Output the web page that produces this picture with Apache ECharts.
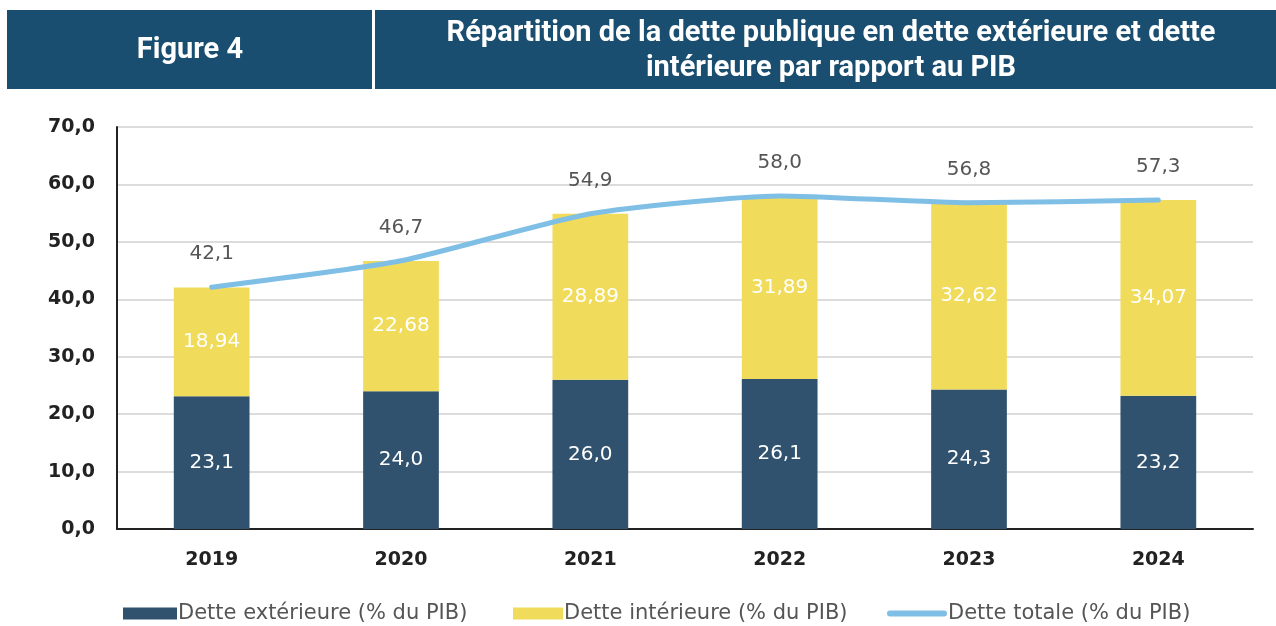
<!DOCTYPE html>
<html>
<head>
<meta charset="utf-8">
<style>
  html, body { margin: 0; padding: 0; background: #fff; }
  #chart { width: 1276px; height: 626px; }
</style>
<script src="https://cdn.jsdelivr.net/npm/echarts@6/dist/echarts.min.js"></script>
</head>
<body>
<div id="chart"></div>
<script>
// données (% du PIB)
var years = ['2019', '2020', '2021', '2022', '2023', '2024'];
var detteExterieure = [23.1, 24.0, 26.0, 26.1, 24.3, 23.2];
var detteInterieure = [18.94, 22.68, 28.89, 31.89, 32.62, 34.07];
var detteTotale = [42.1, 46.7, 54.9, 58.0, 56.8, 57.3];

var nomExt = 'Dette extérieure (% du PIB)';
var nomInt = 'Dette intérieure (% du PIB)';
var nomTot = 'Dette totale (% du PIB)';

function virgule(v, d) {
    return v.toFixed(d).replace('.', ',');
}

var chart = echarts.init(document.getElementById('chart'));
var fontTitre = 'Roboto, "Liberation Sans", sans-serif';
var font = '"DejaVu Sans", sans-serif';

// une légende par élément (écarts irréguliers dans l'original)
function legende(nom, left, largeur, hauteur, icon) {
    return {
        left: left,
        top: 603,
        itemWidth: largeur,
        itemHeight: hauteur,
        itemGap: 0,
        padding: 0,
        textStyle: { fontSize: 21, color: '#555', fontFamily: font, padding: [0, 0, 0, -4] },
        data: [{ name: nom, icon: icon }]
    };
}

var option = {
    animation: false,
    textStyle: { fontFamily: font },
    graphic: [
        { type: 'rect', shape: { x: 7, y: 10, width: 365, height: 79 }, style: { fill: '#1a4e70' } },
        { type: 'rect', shape: { x: 375, y: 10, width: 901, height: 79 }, style: { fill: '#1a4e70' } },
        { type: 'text', x: 190, y: 51, style: { text: 'Figure 4', fill: '#fff', font: 'bold 29px ' + fontTitre, align: 'center', verticalAlign: 'middle' } },
        { type: 'text', x: 831, y: 51, style: { text: 'Répartition de la dette publique en dette extérieure et dette\nintérieure par rapport au PIB', fill: '#fff', font: 'bold 29px ' + fontTitre, align: 'center', verticalAlign: 'middle', lineHeight: 35 } }
    ],
    grid: { left: 117, right: 23, top: 127, bottom: 97 },
    legend: [
        legende(nomExt, 123, 54, 12, 'rect'),
        legende(nomInt, 513, 50, 12, 'rect'),
        legende(nomTot, 887, 60, 12, 'path://M3,0 L57,0 A3,3 0 0 1 57,6 L3,6 A3,3 0 0 1 3,0 Z')
    ],
    xAxis: {
        type: 'category',
        data: years,
        axisLine: { lineStyle: { color: '#222', width: 2 } },
        axisTick: { show: false },
        axisLabel: { fontSize: 19, fontWeight: 'bold', color: '#222', margin: 22 }
    },
    yAxis: {
        type: 'value',
        min: 0,
        max: 70,
        interval: 10,
        axisLine: { show: true, lineStyle: { color: '#222', width: 2 } },
        splitLine: { lineStyle: { color: '#dcdcdc', width: 2 } },
        axisLabel: { fontSize: 19, fontWeight: 'bold', color: '#222', margin: 22, formatter: function (v) { return virgule(v, 1); } }
    },
    series: [
        {
            name: nomExt,
            type: 'bar',
            stack: 'dette',
            barWidth: '40%',
            data: detteExterieure,
            itemStyle: { color: '#30526e' },
            label: { show: true, position: 'inside', color: '#fff', fontSize: 20, formatter: function (p) { return virgule(p.value, 1); } }
        },
        {
            name: nomInt,
            type: 'bar',
            stack: 'dette',
            data: detteInterieure,
            itemStyle: { color: '#f0dc5a' },
            label: { show: true, position: 'inside', color: '#fff', fontSize: 20, formatter: function (p) { return virgule(p.value, 2); } }
        },
        {
            name: nomTot,
            type: 'line',
            data: detteTotale,
            smooth: 0.2,
            symbol: 'none',
            lineStyle: { color: '#7fbfe6', width: 5, cap: 'round' },
            itemStyle: { color: '#7fbfe6' },
            z: 5
        },
        {
            // étiquettes du total au-dessus de la ligne
            name: 'etiquettes',
            type: 'scatter',
            data: detteTotale,
            symbolSize: 2,
            itemStyle: { color: 'rgba(0,0,0,0)' },
            label: { show: true, position: 'top', distance: 22, color: '#2a2a2a', fontSize: 20, formatter: function (p) { return virgule(p.value, 1); } },
            z: 6
        }
    ]
};

chart.setOption(option);
</script>
</body>
</html>
